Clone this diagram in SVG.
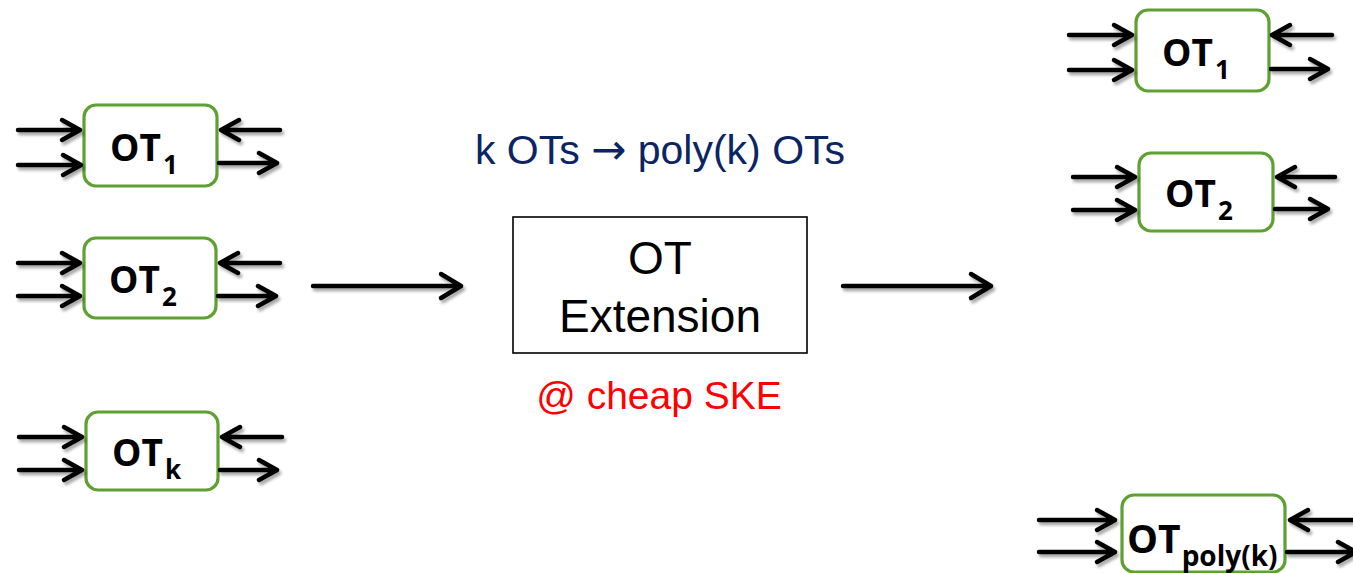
<svg xmlns="http://www.w3.org/2000/svg" width="1353" height="573" viewBox="0 0 1353 573">
<style>
.ot{fill:#fff;stroke:#5FA032;stroke-width:3.2}
.lbl{font-family:"Open Sans","Liberation Sans",Arial,sans-serif;font-weight:bold;fill:#000}
.ar{fill:none;stroke:#000;stroke-width:4.5;stroke-linecap:round;stroke-linejoin:round}
.big{fill:none;stroke:#000;stroke-width:4.5;stroke-linecap:round;stroke-linejoin:round}
.mid{font-family:"Liberation Sans",Arial,sans-serif}
.arw{font-family:"DejaVu Sans",sans-serif}
</style>
<defs>
<filter id="sh" x="-10%" y="-50%" width="120%" height="200%">
<feDropShadow dx="2" dy="3" stdDeviation="1.6" flood-color="#000" flood-opacity="0.35"/>
</filter>
</defs>
<rect width="1353" height="573" fill="#fff"/>

<g id="ot1-left">
<rect class="ot" x="84" y="105" width="133" height="81" rx="12"/>
<text class="lbl" x="110" y="161" font-size="37">OT<tspan font-size="26" dx="2" dy="13">1</tspan></text>
</g>
<g id="ot2-left">
<rect class="ot" x="84" y="238" width="132" height="80" rx="12"/>
<text class="lbl" x="109" y="293" font-size="37">OT<tspan font-size="26" dx="2" dy="13">2</tspan></text>
</g>
<g id="otk-left">
<rect class="ot" x="86" y="412" width="132" height="78" rx="12"/>
<text class="lbl" x="112" y="466" font-size="37">OT<tspan font-size="26" dx="2" dy="13">k</tspan></text>
</g>

<g id="ot-extension">
<rect x="513" y="217" width="294" height="136" fill="#fff" stroke="#000" stroke-width="1.6"/>
<text class="mid" x="660" y="274" font-size="46" text-anchor="middle" fill="#000">OT</text>
<text class="mid" x="660" y="332" font-size="46" text-anchor="middle" fill="#000">Extension</text>
</g>
<g id="caption-top">
<text class="mid" x="660" y="164" font-size="41" text-anchor="middle" fill="#0B2563">k OTs <tspan class="arw" font-size="42">→</tspan> poly(k) OTs</text>
</g>
<g id="caption-bottom">
<text class="mid" x="659" y="409" font-size="39" text-anchor="middle" fill="#FF0000">@ cheap SKE</text>
</g>

<g id="ot1-right">
<rect class="ot" x="1136" y="10" width="133" height="81" rx="12"/>
<text class="lbl" x="1162" y="66" font-size="37">OT<tspan font-size="26" dx="2" dy="13">1</tspan></text>
</g>
<g id="ot2-right">
<rect class="ot" x="1139" y="153" width="134" height="78" rx="12"/>
<text class="lbl" x="1165" y="207" font-size="37">OT<tspan font-size="26" dx="2" dy="13">2</tspan></text>
</g>
<g id="otpoly-right">
<rect class="ot" x="1122" y="495" width="163" height="77" rx="12"/>
<text class="lbl" x="1127" y="553" font-size="39">OT<tspan font-size="28" dx="1" dy="13">poly(k)</tspan></text>
</g>

<g id="connectors" filter="url(#sh)">
<path class="ar" d="M18 130H80M62 120L80 130L62 140"/>
<path class="ar" d="M18 165H81M63 155L81 165L63 175"/>
<path class="ar" d="M280 130H221M239 120L221 130L239 140"/>
<path class="ar" d="M219 163H277M259 153L277 163L259 173"/>
<path class="ar" d="M18 263H80M62 253L80 263L62 273"/>
<path class="ar" d="M18 296H80M62 286L80 296L62 306"/>
<path class="ar" d="M280 263H220M238 253L220 263L238 273"/>
<path class="ar" d="M218 296H276M258 286L276 296L258 306"/>
<path class="ar" d="M19 437H82M64 427L82 437L64 447"/>
<path class="ar" d="M19 470H82M64 460L82 470L64 480"/>
<path class="ar" d="M282 437H222M240 427L222 437L240 447"/>
<path class="ar" d="M220 470H277M259 460L277 470L259 480"/>
<path class="big" d="M313 286H461M441 274L461 286L441 298"/>
<path class="big" d="M843 286H991M971 274L991 286L971 298"/>
<path class="ar" d="M1069 35H1132M1114 25L1132 35L1114 45"/>
<path class="ar" d="M1069 70H1132M1114 60L1132 70L1114 80"/>
<path class="ar" d="M1332 35H1272M1290 25L1272 35L1290 45"/>
<path class="ar" d="M1271 69H1328M1310 59L1328 69L1310 79"/>
<path class="ar" d="M1073 177H1135M1117 167L1135 177L1117 187"/>
<path class="ar" d="M1073 210H1135M1117 200L1135 210L1117 220"/>
<path class="ar" d="M1335 177H1277M1295 167L1277 177L1295 187"/>
<path class="ar" d="M1275 209H1328M1310 199L1328 209L1310 219"/>
<path class="ar" d="M1039 520H1115M1097 510L1115 520L1097 530"/>
<path class="ar" d="M1039 552H1115M1097 542L1115 552L1097 562"/>
<path class="ar" d="M1360 520H1290M1308 510L1290 520L1308 530"/>
<path class="ar" d="M1287 552H1356M1338 542L1356 552L1338 562"/>
</g>
</svg>
